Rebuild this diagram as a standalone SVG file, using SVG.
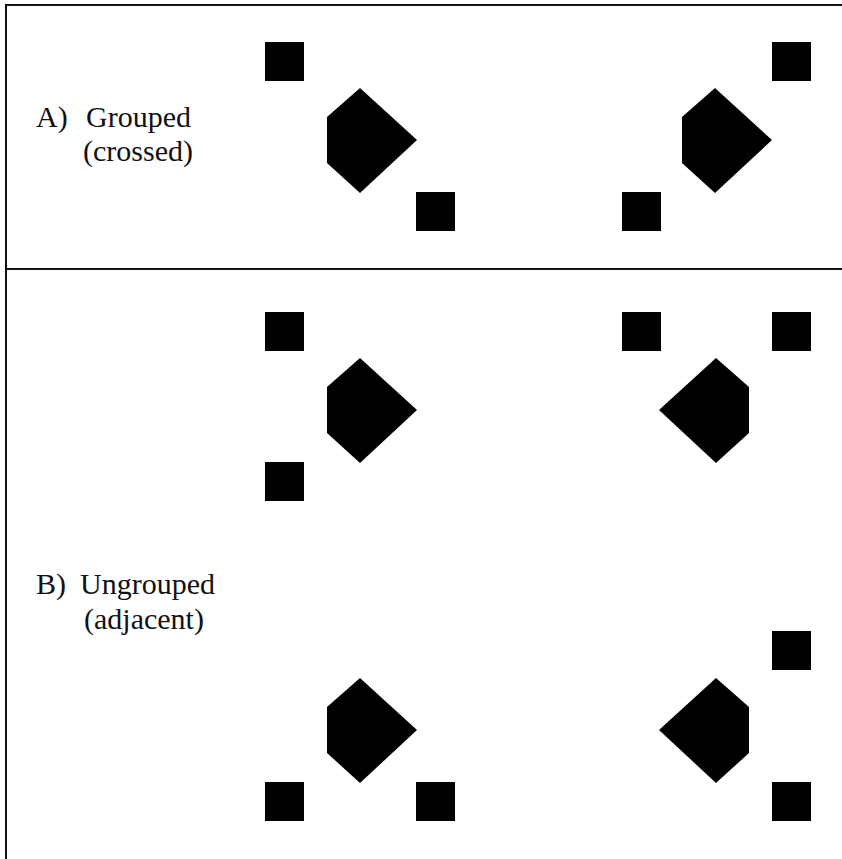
<svg xmlns="http://www.w3.org/2000/svg" width="842" height="859" viewBox="0 0 842 859">
  <style>
    .frame { stroke: #111; stroke-width: 2; fill: none; }
    .shape { fill: #000; }
    .label { font-family: "Liberation Serif", "Times New Roman", serif; font-size: 30px; fill: #111; }
  </style>
  <defs>
    <!-- pentagon pointing right (flat side on the left), anchored at its top vertex -->
    <polygon id="pentR" points="0,0 57,52 0,105 -33,75 -33,29"/>
    <!-- pentagon pointing left (flat side on the right) -->
    <polygon id="pentL" points="0,0 33,29 33,75 0,105 -57,52"/>
    <rect id="sq" width="39" height="39"/>
  </defs>

  <rect width="842" height="859" fill="#fff"/>

  <!-- panel frame -->
  <g id="frame" class="frame">
    <line x1="6" y1="5" x2="842" y2="5"/>
    <line x1="6" y1="4" x2="6" y2="859"/>
    <line x1="6" y1="269" x2="842" y2="269"/>
  </g>

  <!-- A) grouped (crossed) -->
  <g id="labelA" class="label">
    <text x="36" y="127">A)</text>
    <text x="86" y="127">Grouped</text>
    <text x="83" y="161">(crossed)</text>
  </g>
  <g id="A-left" class="shape">
    <use href="#sq" x="265" y="42"/>
    <use href="#pentR" x="360" y="88"/>
    <use href="#sq" x="416" y="192"/>
  </g>
  <g id="A-right" class="shape">
    <use href="#sq" x="772" y="42"/>
    <use href="#pentR" x="715" y="88"/>
    <use href="#sq" x="622" y="192"/>
  </g>

  <!-- B) ungrouped (adjacent) -->
  <g id="labelB" class="label">
    <text x="36" y="594">B)</text>
    <text x="80" y="594">Ungrouped</text>
    <text x="84" y="629">(adjacent)</text>
  </g>
  <g id="B-upper-left" class="shape">
    <use href="#sq" x="265" y="312"/>
    <use href="#pentR" x="360" y="358"/>
    <use href="#sq" x="265" y="462"/>
  </g>
  <g id="B-upper-right" class="shape">
    <use href="#sq" x="622" y="312"/>
    <use href="#sq" x="772" y="312"/>
    <use href="#pentL" x="716" y="358"/>
  </g>
  <g id="B-lower-left" class="shape">
    <use href="#pentR" x="360" y="678"/>
    <use href="#sq" x="265" y="782"/>
    <use href="#sq" x="416" y="782"/>
  </g>
  <g id="B-lower-right" class="shape">
    <use href="#sq" x="772" y="631"/>
    <use href="#pentL" x="716" y="678"/>
    <use href="#sq" x="772" y="782"/>
  </g>

  <g id="connectors"/>
</svg>
